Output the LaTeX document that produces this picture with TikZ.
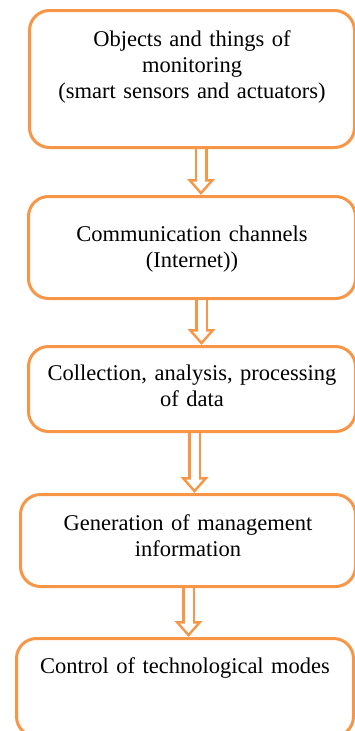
\documentclass[tikz,border=0pt]{standalone}
\usepackage{fontspec}
\setmainfont{Liberation Serif}
\usetikzlibrary{arrows.meta, positioning, backgrounds}
\definecolor{boxorange}{RGB}{247,150,70}
\tikzset{>=Triangle}

\begin{document}
\begin{tikzpicture}[x=1pt, y=-1pt,
  box/.style={rectangle, draw=boxorange, line width=3pt, rounded corners=20pt, anchor=north west,
    align=center, inner xsep=6pt, inner ysep=10pt, font=\fontsize{22.5}{26}\selectfont},
  flowout/.style={draw=boxorange, line width=13pt, -{Triangle[length=16pt,width=27pt]}},
  flowin/.style={draw=white, line width=8pt, shorten >=3.9pt, -{Triangle[length=9.6pt,width=16.2pt]}}]
  \useasboundingbox (0,0) rectangle (355,731);
  \node (b1) at (28,9)[box, text width=313pt, text height=26pt, text depth=91pt]
    {Objects and things of\\ monitoring\\ (smart sensors and actuators)};
  \node (b2) at (27,195)[box, text width=315pt, text height=35pt, text depth=47pt]
    {Communication channels\\ (Internet))};
  \node (b3) at (27,345)[box, text width=315pt, text height=24pt, text depth=41pt]
    {Collection, analysis, processing\\ of data};
  \node (b4) at (19,493)[box, text width=323pt, text height=26pt, text depth=46pt]
    {Generation of management\\ information};
  \node (b5) at (15,637)[box, text width=325pt, text height=25pt, text depth=53pt]
    {Control of technological modes};
  % hollow arrows between the boxes
  \begin{scope}[on background layer]
    \foreach \a/\b/\dx in {b1/b2/9, b2/b3/9.5, b3/b4/2.5, b4/b5/0.5}
      {\draw[flowout] ([xshift=\dx pt]\a.south) -- ([xshift=\dx pt]\a.south |- \b.north);
       \draw[flowin] ([xshift=\dx pt]\a.south) -- ([xshift=\dx pt]\a.south |- \b.north);}
  \end{scope}
\end{tikzpicture}
\end{document}
